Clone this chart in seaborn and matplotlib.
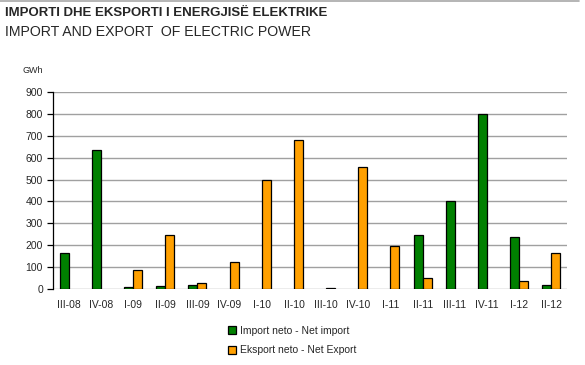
import numpy as np
import pandas as pd
import matplotlib
matplotlib.use("Agg")
import matplotlib.pyplot as plt
import seaborn as sns

# ---------------------------------------------------------------------------
# Data (GWh; NaN = no bar)
# ---------------------------------------------------------------------------
quarters = ["III-08", "IV-08", "I-09", "II-09", "III-09", "IV-09", "I-10", "II-10",
            "III-10", "IV-10", "I-11", "II-11", "III-11", "IV-11", "I-12", "II-12"]
nan = np.nan
net_import = [164, 633, 10, 15, 21, nan, nan, nan, nan, nan, nan, 246, 403, 798, 240, 21]
net_export = [nan, nan, 87, 246, 27, 126, 498, 681, 5, 555, 197, 53, nan, nan, 38, 164]
series_names = ["Import neto - Net import", "Eksport neto - Net Export"]
y_ticks = list(range(0, 1000, 100))

df = pd.DataFrame({
    "quarter": quarters * 2,
    "value": net_import + net_export,
    "series": [series_names[0]] * len(quarters) + [series_names[1]] * len(quarters),
})

# ---------------------------------------------------------------------------
# Plot
# ---------------------------------------------------------------------------
sns.set_style("white")
plt.rcParams["font.family"] = ["Liberation Sans", "DejaVu Sans"]

fig = plt.figure(figsize=(5.85, 3.65), dpi=100)
ax = fig.add_axes([0.090, 0.2074, 0.880, 0.5414])

sns.barplot(
    data=df, x="quarter", y="value", hue="series", hue_order=series_names,
    order=quarters, palette=["#008000", "#FFA000"], saturation=1, width=0.56,
    edgecolor="black", linewidth=0.9, ax=ax, zorder=3,
)

ax.set_ylim(0, 900)
ax.set_xlim(-0.5, len(quarters) - 0.5)
ax.set_yticks(y_ticks)
ax.yaxis.grid(True, color="#A0A0A0", linewidth=1.0, zorder=0)
ax.set_axisbelow(True)
ax.set_xlabel("")
ax.set_ylabel("")

for side in ["top", "right", "bottom"]:
    ax.spines[side].set_visible(False)
ax.spines["left"].set_color("black")
ax.spines["left"].set_linewidth(0.9)

ax.tick_params(axis="y", which="major", left=True, length=4, width=0.9,
               color="black", labelsize=7.5, pad=3)
ax.tick_params(axis="x", bottom=False, labelsize=7.5, pad=4)

ax.legend(loc="upper center", bbox_to_anchor=(0.465, -0.165), frameon=False,
          fontsize=7.5, handlelength=0.8, handleheight=0.8, handletextpad=0.4,
          labelspacing=0.9, borderaxespad=0)

fig.text(0.009, 0.965, "IMPORTI DHE EKSPORTI I ENERGJISË ELEKTRIKE",
         fontsize=9.5, fontweight="bold", va="center", ha="left")
fig.text(0.009, 0.912, "IMPORT AND EXPORT  OF ELECTRIC POWER",
         fontsize=10.2, va="center", ha="left")
fig.text(0.038, 0.808, "GWh", fontsize=6.5, va="center", ha="left")

fig.add_artist(plt.Line2D([0, 0.99], [0.997, 0.997], color="#A8A8A8",
                          linewidth=1.2, transform=fig.transFigure))

fig.savefig("out.png", dpi=100)
